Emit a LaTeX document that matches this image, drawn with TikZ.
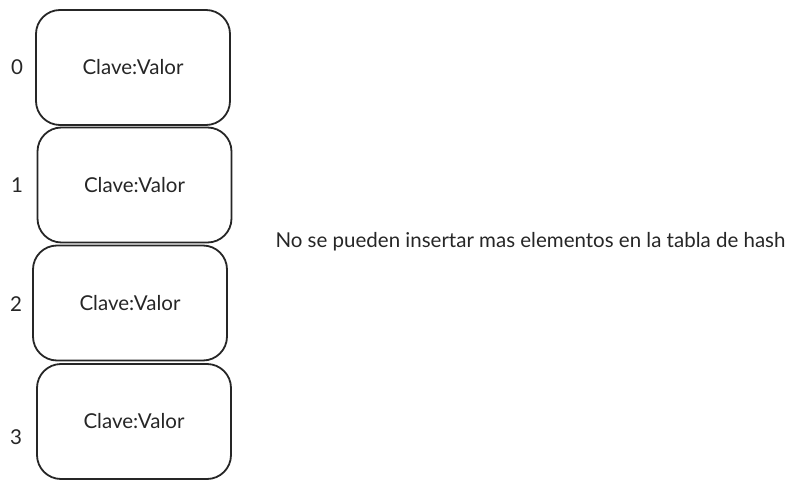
\documentclass[tikz,border=0pt]{standalone}
\usepackage{fontspec}
\setmainfont{Lato}

\begin{document}
\begin{tikzpicture}[x=1pt,y=-1pt,
  celda/.style={draw=black!85,line width=1.8pt,rounded corners=24pt,minimum width=194pt,minimum height=115pt,inner sep=0pt,font=\fontsize{20.5}{24}\selectfont,text=black!85},
  indice/.style={font=\fontsize{20.5}{24}\selectfont,text=black!85}]
\useasboundingbox (0,0) rectangle (803,489);
\node[celda] (c0) at (133,67.5) {Clave:Valor};
\node[celda] (c1) at (134.5,185) {Clave:Valor};
\node[celda] (c2) at (130,303) {Clave:Valor};
\node[celda] (c3) at (134,421.5) {Clave:Valor};
\node[indice] (i0) at (17,67) {0};
\node[indice] (i1) at (17,185) {1};
\node[indice] (i2) at (16,304) {2};
\node[indice] (i3) at (16,437) {3};
\node[indice,anchor=west] (msg) at (272,242) {No se pueden insertar mas elementos en la tabla de hash};
\end{tikzpicture}
\end{document}
